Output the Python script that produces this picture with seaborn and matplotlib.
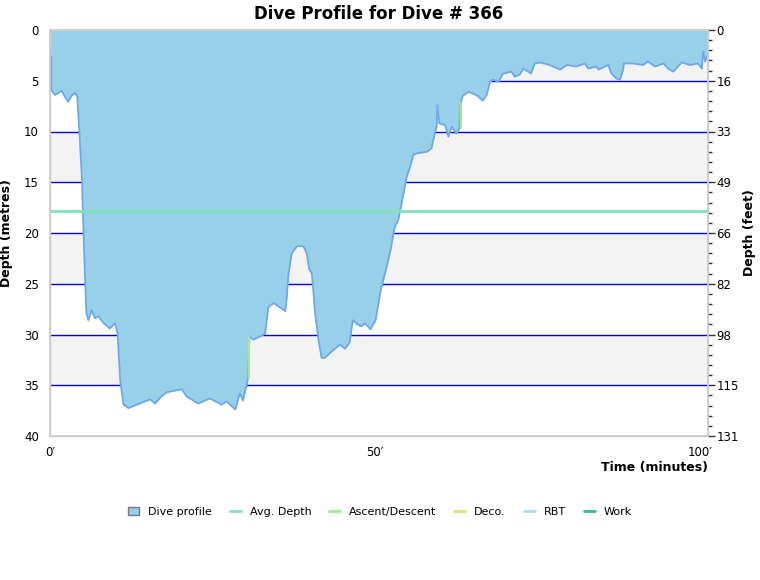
import numpy as np
import pandas as pd
import matplotlib
matplotlib.use("Agg")
import matplotlib.pyplot as plt
from matplotlib.lines import Line2D
from matplotlib.patches import Patch
import seaborn as sns

# Dive profile (time in minutes, depth in metres)
time_min = [0.0, 0.0, 0.2, 0.2, 0.77, 1.3, 1.8, 2.3, 2.8, 3.3, 3.85, 4.2, 4.5, 4.9, 5.1, 5.4,
            5.6, 5.9, 6.4, 6.9, 7.4, 8.3, 9.2, 10.0, 10.4, 10.8, 11.3, 12.05, 13.0, 13.8,
            14.6, 15.4, 16.2, 17.0, 17.9, 19.5, 20.3, 21.0, 22.8, 24.6, 26.4, 27.2, 28.5,
            29.2, 29.7, 30.5, 30.7, 31.3, 32.3, 33.1, 33.6, 34.4, 36.2, 36.4, 36.7, 37.2,
            38.0, 39.0, 39.5, 39.9, 40.3, 40.8, 41.3, 41.8, 42.3, 43.3, 44.6, 45.4, 46.1,
            46.6, 47.3, 47.9, 48.5, 49.3, 50.1, 50.9, 51.7, 52.4, 53.0, 53.6, 54.4, 54.9,
            55.4, 55.9, 56.4, 58.0, 58.7, 59.2, 59.5, 59.6, 59.9, 60.8, 61.3, 61.8, 62.5,
            63.0, 63.2, 63.5, 64.4, 65.6, 66.6, 67.2, 67.7, 68.2, 69.0, 69.7, 71.0, 71.5,
            72.3, 72.8, 73.6, 74.0, 74.6, 75.4, 76.9, 78.5, 79.5, 81.0, 82.3, 82.8, 84.1,
            84.4, 85.9, 86.4, 87.2, 87.7, 88.2, 88.3, 89.7, 91.3, 92.0, 93.1, 94.4, 95.1,
            95.9, 97.2, 98.5, 99.7, 100.3, 100.5, 100.8, 101.3, 101.5]
depth_m = [1.5, 2.6, 2.6, 5.9, 6.4, 6.2, 6.0, 6.6, 7.06, 6.5, 6.2, 6.6, 9.85, 14.45, 18.7, 24.6,
           27.9, 28.6, 27.6, 28.4, 28.2, 28.9, 29.4, 28.9, 29.9, 34.5, 36.9, 37.25, 37.0, 36.8,
           36.6, 36.4, 36.8, 36.2, 35.7, 35.5, 35.4, 36.1, 36.8, 36.3, 36.9, 36.6, 37.4,
           35.8, 36.5, 34.2, 30.2, 30.5, 30.2, 29.9, 27.3, 26.9, 27.7, 26.6, 24.0, 22.0,
           21.3, 21.3, 22.0, 23.6, 24.0, 27.9, 30.5, 32.3, 32.3, 31.7, 31.0, 31.4, 30.8,
           28.6, 29.0, 29.2, 28.9, 29.5, 28.6, 25.6, 23.6, 21.7, 19.5, 18.7, 16.1, 14.45,
           13.5, 12.3, 12.15, 12.0, 11.65, 10.2, 9.5, 7.4, 9.2, 9.4, 10.5, 9.5, 10.2,
           9.7, 7.2, 6.5, 6.1, 6.4, 6.96, 6.4, 5.1, 4.9, 5.1, 4.3, 4.1, 4.6,
           4.4, 3.8, 4.1, 4.3, 3.3, 3.2, 3.45, 3.9, 3.45, 3.6, 3.3, 3.8, 3.6,
           3.9, 3.45, 4.3, 4.8, 4.9, 3.9, 3.3, 3.3, 3.45, 3.1, 3.6, 3.3, 3.8,
           4.1, 3.2, 3.45, 3.3, 3.8, 2.1, 3.1, 2.3, 0.3]

avg_depth = 17.85

# fast ascent segments highlighted in the reference
ascent_time = [[30.6, 30.6], [63.2, 63.2]]
ascent_depth = [[34.2, 30.2], [9.7, 7.2]]

title = "Dive Profile for Dive # 366"
x_ticks = [0, 50, 100]
x_labels = ["0\u2032", "50\u2032", "100\u2032"]
y_ticks = [0, 5, 10, 15, 20, 25, 30, 35, 40]
feet_labels = ["0", "16", "33", "49", "66", "82", "98", "115", "131"]
legend_names = ["Dive profile", "Avg. Depth", "Ascent/Descent", "Deco.", "RBT", "Work"]
legend_colors = ["#98cfe9", "#7ee3b8", "#9eec8e", "#dde36a", "#a8dcf5", "#2fbf94"]

df = pd.DataFrame({"time": time_min, "depth": depth_m})

sns.set_theme(style="white")
plt.rcParams["font.family"] = ["DejaVu Sans"]
plt.rcParams["text.color"] = "black"
plt.rcParams["xtick.color"] = "black"
plt.rcParams["ytick.color"] = "black"
plt.rcParams["axes.labelcolor"] = "black"

fig = plt.figure(figsize=(7.6, 5.8), dpi=100)
ax = fig.add_axes([50 / 760, 1 - 436 / 580, 658 / 760, 406 / 580])

xmax = 101.25
ax.set_xlim(0, xmax)
ax.set_ylim(40, 0)

# alternating background bands + blue grid lines
for i in range(0, 40, 5):
    if (i // 5) % 2 == 0:
        ax.axhspan(i, i + 5, color="#f3f3f3", zorder=0, lw=0)
for g in range(5, 40, 5):
    ax.axhline(g, color="#0000ee", lw=1, zorder=1)

ax.fill_between(df["time"], 0, df["depth"], color="#98cfe9", lw=0, zorder=2)
sns.lineplot(data=df, x="time", y="depth", sort=False, color="#6ea9e6", lw=1.3,
             ax=ax, zorder=3, estimator=None)
ax.axhline(avg_depth, color="#7ee3b8", lw=2, zorder=4)
for t, d in zip(ascent_time, ascent_depth):
    ax.plot(t, d, color="#9eec8e", lw=1.5, zorder=4)

ax.set_xticks(x_ticks)
ax.set_xticklabels(x_labels, fontsize=8.5)
ax.set_yticks(y_ticks)
ax.set_yticklabels([str(v) for v in y_ticks], fontsize=8.5)
ax.tick_params(axis="both", length=0, pad=8)
ax.tick_params(axis="x", pad=7)
for s in ax.spines.values():
    s.set_color("#cccccc")
    s.set_linewidth(1)
ax.set_xlabel("")
ax.set_ylabel("Depth (metres)", fontsize=9, fontweight="bold", labelpad=8)
ax.set_title(title, fontsize=12, fontweight="bold", pad=8)
fig.text(708 / 760, 1 - 467 / 580, "Time (minutes)", ha="right", va="center",
         fontsize=9, fontweight="bold")

ax2 = ax.twinx()
ax2.set_ylim(40, 0)
ax2.set_yticks(y_ticks)
ax2.set_yticklabels(feet_labels, fontsize=8.5)
ax2.set_yticks(np.arange(0, 41, 1), minor=True)
ax2.tick_params(axis="y", which="major", length=5, width=1, color="#333333", pad=1, right=True)
ax2.tick_params(axis="y", which="minor", length=3, width=1, color="#333333", right=True)
ax2.set_ylabel("Depth (feet)", fontsize=9, fontweight="bold", labelpad=3)
for s in ax2.spines.values():
    s.set_color("#cccccc")

handles = [Patch(facecolor=legend_colors[0], edgecolor="#777777", lw=1)]
for c in legend_colors[1:]:
    handles.append(Line2D([0], [0], color=c, lw=2))
fig.legend(handles, legend_names, loc="center", bbox_to_anchor=(0.5, 1 - 512 / 580),
           ncol=6, frameon=False, fontsize=8, handlelength=1.0, handleheight=0.8,
           columnspacing=1.6, handletextpad=0.8)

fig.savefig("out.png", dpi=100)
